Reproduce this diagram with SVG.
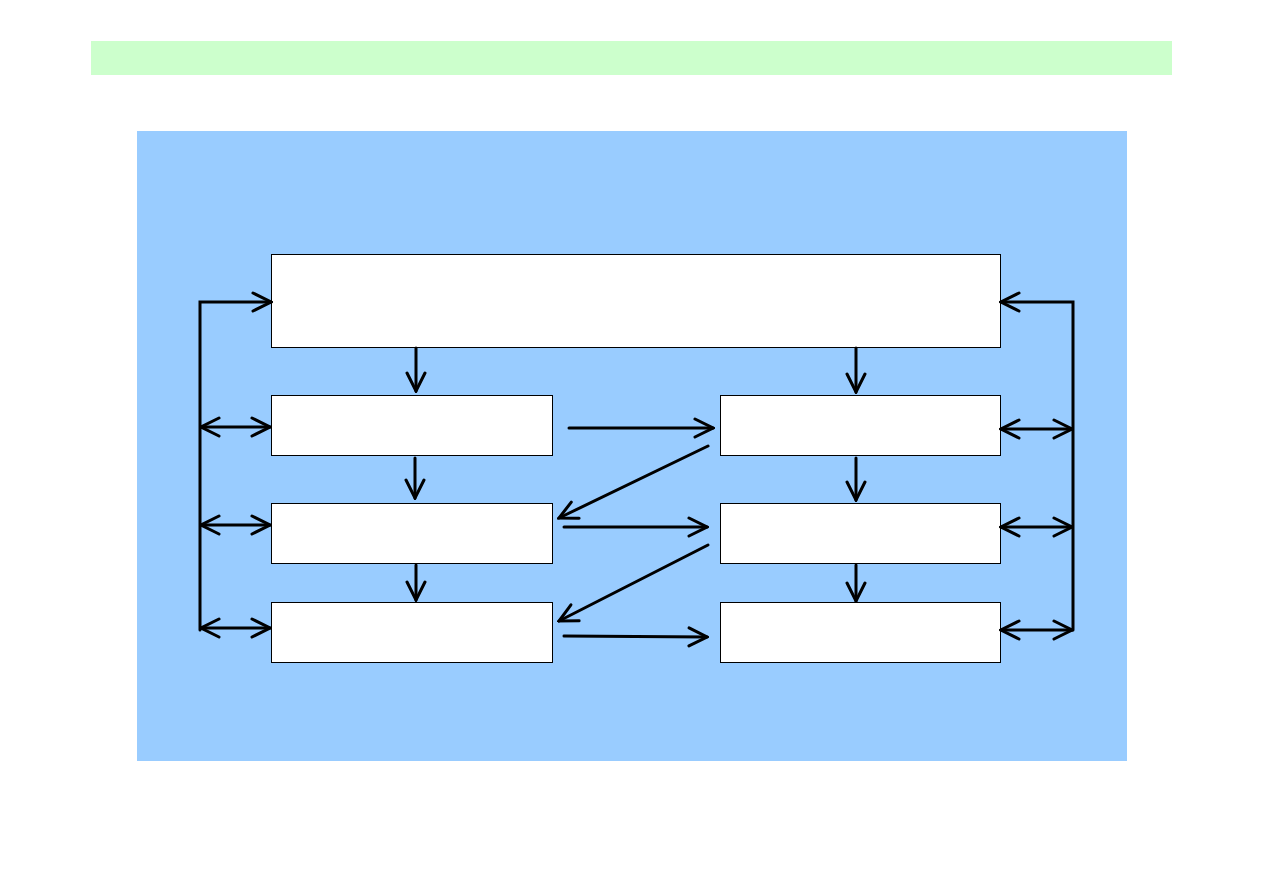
<svg xmlns="http://www.w3.org/2000/svg" width="1263" height="893" viewBox="0 0 1263 893">
<style>
.box{fill:#FFFFFF;stroke:#000000;stroke-width:1}
.c{fill:none;stroke:#000000;stroke-width:3;stroke-linecap:round}
.a{marker-end:url(#ah)}
.d{marker-start:url(#ahs);marker-end:url(#ah)}
</style>
<defs>
<marker id="ah" markerUnits="userSpaceOnUse" viewBox="-20 -11 22 22" refX="0" refY="0" markerWidth="22" markerHeight="22" orient="auto">
<path d="M-18,-9 L0,0 L-18,9" fill="none" stroke="#000" stroke-width="3" stroke-linecap="round" stroke-linejoin="miter"/>
</marker>
<marker id="ahs" markerUnits="userSpaceOnUse" viewBox="-2 -11 22 22" refX="0" refY="0" markerWidth="22" markerHeight="22" orient="auto">
<path d="M18,-9 L0,0 L18,9" fill="none" stroke="#000" stroke-width="3" stroke-linecap="round" stroke-linejoin="miter"/>
</marker>
</defs>
<rect width="1263" height="893" fill="#FFFFFF"/>
<rect id="titlebar" x="91" y="41" width="1081" height="34" fill="#CCFFCC"/>
<rect id="panel" x="137" y="131" width="990" height="630" fill="#99CCFF"/>
<g id="top"><rect class="box" x="271.5" y="254.5" width="729" height="93"/></g>
<g id="l1"><rect class="box" x="271.5" y="395.5" width="281" height="60"/></g>
<g id="l2"><rect class="box" x="271.5" y="503.5" width="281" height="60"/></g>
<g id="l3"><rect class="box" x="271.5" y="602.5" width="281" height="60"/></g>
<g id="r1"><rect class="box" x="720.5" y="395.5" width="280" height="60"/></g>
<g id="r2"><rect class="box" x="720.5" y="503.5" width="280" height="60"/></g>
<g id="r3"><rect class="box" x="720.5" y="602.5" width="280" height="60"/></g>
<g id="connectors">
<polyline class="c a" points="200,630 200,302 271,302"/>
<line class="c d" x1="201" y1="427" x2="270" y2="427"/>
<line class="c d" x1="201" y1="525" x2="270" y2="525"/>
<line class="c d" x1="201" y1="628" x2="270" y2="628"/>
<polyline class="c a" points="1073,630 1073,302 1001,302"/>
<line class="c d" x1="1001" y1="429" x2="1072" y2="429"/>
<line class="c d" x1="1001" y1="527" x2="1072" y2="527"/>
<line class="c d" x1="1001" y1="630" x2="1072" y2="630"/>
<line class="c a" x1="416" y1="348" x2="416" y2="391"/>
<line class="c a" x1="856" y1="348" x2="856" y2="392"/>
<line class="c a" x1="415" y1="458" x2="415" y2="498"/>
<line class="c a" x1="856" y1="458" x2="856" y2="500"/>
<line class="c a" x1="416" y1="565" x2="416" y2="600"/>
<line class="c a" x1="856" y1="565" x2="856" y2="601"/>
<line class="c a" x1="569" y1="428" x2="713" y2="428"/>
<line class="c a" x1="564" y1="527" x2="707" y2="527"/>
<line class="c a" x1="564" y1="636" x2="707" y2="637"/>
<line class="c a" x1="708" y1="446" x2="559" y2="518"/>
<line class="c a" x1="708" y1="545" x2="559" y2="621"/>
</g>
</svg>
